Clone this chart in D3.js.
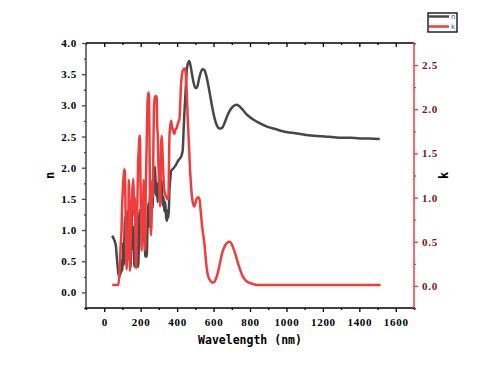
<!DOCTYPE html>
<html>
<head>
<meta charset="utf-8">
<script src="https://cdn.jsdelivr.net/npm/d3@7"></script>
<style>
  body { margin: 0; background: #fff; }
</style>
</head>
<body>
<svg id="chart" width="482" height="371"></svg>
<script>
// refractive index n (dark) and extinction k (red) vs wavelength (nm)
const nWl = [44,52,59,65,68,72,78,84,88,92,95,100,104,108,112,114,118,123,127,132,136,140,145,150,155,160,165,169,174,178,183,187,192,196,200,205,210,215,220,224,228,233,238,242,247,252,257,261,266,270,275,279,284,288,293,297,301,306,311,316,320,325,330,335,340,345,349,353,358,362,367,372,380,390,398,407,416,425,431,435,440,444,448,453,458,462,466,470,476,483,490,498,505,512,520,530,540,549,558,568,580,592,605,618,630,640,650,662,675,692,710,725,740,760,780,800,820,850,893,940,985,1030,1077,1120,1168,1210,1260,1300,1352,1400,1450,1512]
const nVal = [0.91,0.86,0.81,0.72,0.60,0.47,0.30,0.25,0.45,0.30,0.52,0.35,0.80,0.45,1.05,1.21,0.70,0.89,1.30,1.27,0.55,0.95,0.40,1.38,0.70,1.05,0.45,0.41,1.10,0.60,0.42,0.41,1.20,1.32,0.95,1.38,1.25,0.85,1.00,0.57,0.75,0.57,1.10,1.43,1.05,1.60,1.20,1.75,1.35,1.80,1.60,2.02,1.55,1.75,1.45,1.64,1.85,2.02,1.60,1.80,1.40,1.54,1.30,1.45,1.20,1.15,1.32,1.20,1.64,1.80,1.95,1.97,1.99,2.03,2.07,2.12,2.15,2.20,2.29,2.55,2.88,3.09,3.30,3.57,3.66,3.69,3.71,3.68,3.60,3.48,3.37,3.29,3.28,3.31,3.42,3.53,3.58,3.57,3.50,3.37,3.18,2.98,2.80,2.68,2.63,2.63,2.65,2.73,2.83,2.93,2.99,3.01,2.99,2.93,2.86,2.81,2.77,2.72,2.66,2.62,2.58,2.56,2.54,2.52,2.51,2.50,2.49,2.48,2.48,2.47,2.47,2.46]

const kWl = [44,60,77,82,86,90,95,98,101,105,110,113,116,119,123,127,131,135,138,141,145,150,155,160,163,165,168,172,175,178,182,186,190,193,196,199,202,205,208,212,216,220,224,228,233,237,242,246,249,251,254,257,260,264,267,270,274,279,284,288,291,294,297,300,303,306,309,312,316,320,325,329,333,338,343,348,352,355,358,362,367,372,378,385,391,397,403,408,413,417,420,426,430,435,440,446,450,453,457,462,467,472,477,481,487,494,500,506,512,518,523,529,535,542,549,556,563,572,582,591,600,609,618,628,637,650,664,676,688,700,710,724,738,752,765,783,802,820,839,900,1000,1200,1400,1517]
const kVal = [0.01,0.01,0.01,0.10,0.26,0.45,0.64,0.90,1.04,1.20,1.32,1.30,1.00,0.50,0.19,0.60,0.30,1.20,0.85,0.17,0.50,0.90,1.10,1.21,0.90,0.79,1.00,0.40,0.20,0.60,0.95,1.40,1.55,1.70,1.70,1.20,0.80,0.40,0.90,0.55,1.20,0.70,0.40,1.10,1.60,2.05,2.19,2.15,1.50,1.02,0.70,0.57,0.75,1.20,1.00,1.60,2.05,2.15,2.15,2.13,1.80,1.70,1.40,1.25,1.10,0.90,1.20,1.60,1.70,1.50,1.25,1.09,1.05,1.02,1.00,0.98,0.98,1.30,1.70,1.80,1.87,1.80,1.76,1.72,1.78,1.78,1.83,1.86,1.89,2.05,2.22,2.38,2.43,2.45,2.46,2.43,2.30,2.19,1.95,1.73,1.50,1.28,1.12,1.02,0.94,0.90,0.93,0.98,1.00,1.00,0.98,0.86,0.72,0.60,0.49,0.34,0.19,0.10,0.06,0.04,0.04,0.06,0.11,0.19,0.28,0.39,0.46,0.49,0.50,0.47,0.42,0.33,0.23,0.15,0.09,0.05,0.03,0.02,0.01,0.01,0.01,0.01,0.01,0.01]

const xMajor = [0,200,400,600,800,1000,1200,1400,1600]
const nMajor = [0,0.5,1,1.5,2,2.5,3,3.5,4]
const kMajor = [0,0.5,1,1.5,2,2.5]

const svg = d3.select('#chart')
const plotL = 86, plotR = 414, plotT = 43, plotB = 308
const darkCol = '#474747', redCol = '#f03c3c'

const x = d3.scaleLinear().domain([-100, 1700]).range([plotL, plotR])
const yN = d3.scaleLinear().domain([-0.25, 4.0]).range([plotB, plotT])
const yK = d3.scaleLinear().domain([-0.25, 2.75]).range([plotB, plotT])

const xMinor = d3.range(-100, 1701, 100).filter(v => !xMajor.includes(v))
const nMinor = d3.range(-0.25, 4.01, 0.25).filter(v => !nMajor.some(m => Math.abs(m - v) < 1e-6))
const kMinor = d3.range(-0.25, 2.76, 0.25).filter(v => !kMajor.some(m => Math.abs(m - v) < 1e-6))

function styleAxis(g, col, textCol) {
    g.select('.domain').remove()
    g.attr('font-family', '"Liberation Serif", "Times New Roman", serif').attr('font-size', 11).attr('font-weight', 'bold')
    g.selectAll('line').attr('stroke', col).attr('stroke-width', 1.3)
    g.selectAll('text').attr('fill', textCol).attr('letter-spacing', 0.7)
}

// bottom axis
svg.append('g').attr('transform', `translate(0,${plotB})`)
    .call(d3.axisBottom(x).tickValues(xMajor).tickSize(4).tickPadding(6).tickFormat(d3.format('d')))
    .call(g => styleAxis(g, '#000', '#000'))
svg.append('g').attr('transform', `translate(0,${plotB})`)
    .call(d3.axisBottom(x).tickValues(xMinor).tickSize(2).tickFormat(''))
    .call(g => styleAxis(g, '#000', '#000'))
// top axis, ticks inward
svg.append('g').attr('transform', `translate(0,${plotT})`)
    .call(d3.axisBottom(x).tickValues(xMajor).tickSize(4).tickFormat(''))
    .call(g => styleAxis(g, '#000', '#000'))
svg.append('g').attr('transform', `translate(0,${plotT})`)
    .call(d3.axisBottom(x).tickValues(xMinor).tickSize(2).tickFormat(''))
    .call(g => styleAxis(g, '#000', '#000'))

// left axis (n)
svg.append('g').attr('transform', `translate(${plotL},0)`)
    .call(d3.axisLeft(yN).tickValues(nMajor).tickSize(4).tickPadding(5).tickFormat(d3.format('.1f')))
    .call(g => styleAxis(g, darkCol, '#000'))
svg.append('g').attr('transform', `translate(${plotL},0)`)
    .call(d3.axisLeft(yN).tickValues(nMinor).tickSize(2).tickFormat(''))
    .call(g => styleAxis(g, darkCol, '#000'))

// right axis (k)
svg.append('g').attr('transform', `translate(${plotR},0)`)
    .call(d3.axisRight(yK).tickValues(kMajor).tickSize(4).tickPadding(4).tickFormat(d3.format('.1f')))
    .call(g => styleAxis(g, redCol, '#6e1818'))
svg.append('g').attr('transform', `translate(${plotR},0)`)
    .call(d3.axisRight(yK).tickValues(kMinor).tickSize(2).tickFormat(''))
    .call(g => styleAxis(g, redCol, '#6e1818'))

// frame lines
svg.append('line').attr('x1', plotL).attr('x2', plotR).attr('y1', plotT).attr('y2', plotT)
    .attr('stroke', '#000').attr('stroke-width', 1.5)
svg.append('line').attr('x1', plotL - 1).attr('x2', plotR + 1).attr('y1', plotB).attr('y2', plotB)
    .attr('stroke', '#000').attr('stroke-width', 1.5)
svg.append('line').attr('x1', plotL).attr('x2', plotL).attr('y1', plotT).attr('y2', plotB)
    .attr('stroke', darkCol).attr('stroke-width', 1.5)
svg.append('line').attr('x1', plotR).attr('x2', plotR).attr('y1', plotT).attr('y2', plotB)
    .attr('stroke', redCol).attr('stroke-width', 1.5)

// curves
const nLine = d3.line().x((d, i) => x(nWl[i])).y(d => yN(d)).curve(d3.curveMonotoneX)
const kLine = d3.line().x((d, i) => x(kWl[i])).y(d => yK(d)).curve(d3.curveMonotoneX)

svg.append('path').datum(nVal).attr('d', nLine)
    .attr('fill', 'none').attr('stroke', darkCol).attr('stroke-width', 2.5).attr('stroke-linejoin', 'round')
svg.append('path').datum(kVal).attr('d', kLine)
    .attr('fill', 'none').attr('stroke', redCol).attr('stroke-width', 2.5).attr('stroke-linejoin', 'round')

// axis titles
svg.append('text').attr('transform', `translate(54,${(plotT + plotB) / 2}) rotate(-90)`)
    .attr('text-anchor', 'middle').attr('font-family', '"DejaVu Sans Mono", monospace')
    .attr('font-weight', 'bold').attr('font-size', 12).text('n')
svg.append('text').attr('transform', `translate(448,${(plotT + plotB) / 2}) rotate(-90)`)
    .attr('text-anchor', 'middle').attr('font-family', '"DejaVu Sans Mono", monospace')
    .attr('font-weight', 'bold').attr('font-size', 12).text('k')
svg.append('text').attr('x', (plotL + plotR) / 2).attr('y', 344)
    .attr('text-anchor', 'middle').attr('font-family', '"DejaVu Sans Mono", monospace')
    .attr('font-weight', 'bold').attr('font-size', 11.5).text('Wavelength (nm)')

// legend
const legend = svg.append('g').attr('transform', 'translate(428,13)')
legend.append('rect').attr('width', 29).attr('height', 19)
    .attr('fill', '#fff').attr('stroke', '#000').attr('stroke-width', 1.3)
const items = [{label: 'n', col: darkCol}, {label: 'k', col: redCol}]
items.forEach((it, i) => {
    legend.append('line').attr('x1', 1).attr('x2', 21).attr('y1', 3.5 + i * 10).attr('y2', 3.5 + i * 10)
        .attr('stroke', it.col).attr('stroke-width', 2.5)
    legend.append('text').attr('x', 23).attr('y', 6 + i * 10)
        .attr('font-family', '"DejaVu Sans", sans-serif').attr('font-size', 7)
        .attr('fill', '#3355aa').text(it.label)
})
</script>
</body>
</html>
